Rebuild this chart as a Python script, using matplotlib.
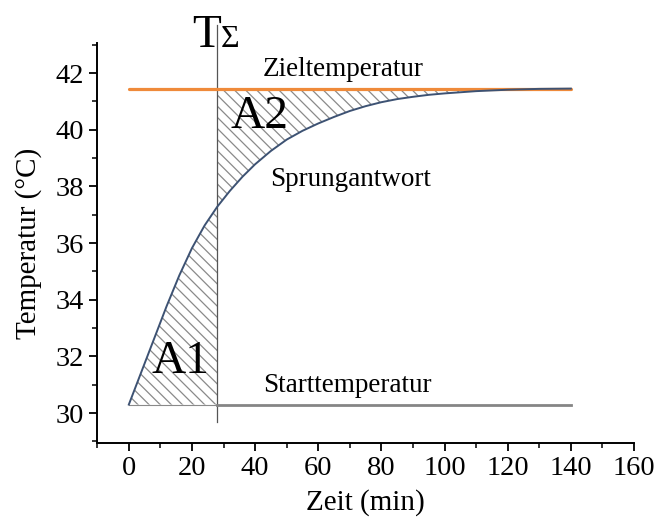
import matplotlib
matplotlib.use("Agg")
import matplotlib.pyplot as plt
import numpy as np

plt.rcParams['font.family'] = ['Liberation Serif', 'DejaVu Serif']
plt.rcParams['hatch.color'] = '#8a8a8a'
plt.rcParams['hatch.linewidth'] = 0.9

# step response read from the measurement
zeit = np.array([0, 4, 8, 12, 16, 20, 24, 28, 32, 36, 40, 45, 50, 55, 60,
                 65, 70, 75, 80, 85, 90, 95, 100, 110, 120, 130, 140])
temp = np.array([30.30, 31.46, 32.62, 33.78, 34.86, 35.82, 36.62, 37.28, 37.84,
                 38.34, 38.78, 39.25, 39.65, 39.96, 40.22, 40.45, 40.66, 40.83,
                 40.97, 41.08, 41.16, 41.23, 41.28, 41.36, 41.41, 41.44, 41.45])

t_start = 30.3
t_ziel = 41.45
t_sigma = 28
t_end = 140

x_ticks = [0, 20, 40, 60, 80, 100, 120, 140, 160]
y_ticks = [30, 32, 34, 36, 38, 40, 42]

fig = plt.figure(figsize=(6.57, 5.21), dpi=100)
ax = fig.add_axes([0.148, 0.150, 0.817, 0.767])

# hatched areas A1 (left of T_sigma) and A2 (right of it)
left = zeit <= t_sigma
right = zeit >= t_sigma
ax.fill_between(zeit[left], t_start, temp[left], facecolor='none',
                edgecolor='#8a8a8a', hatch='\\\\\\', linewidth=0)
ax.fill_between(zeit[right], temp[right], t_ziel, facecolor='none',
                edgecolor='#8a8a8a', hatch='\\\\\\', linewidth=0)
ax.plot([0, t_sigma], [t_start, t_start], color='#8a8a8a', lw=0.8)

ax.plot([0, t_end], [t_ziel, t_ziel], color='#ef8a3a', lw=2.3, solid_capstyle='round', zorder=3)
ax.plot([t_sigma, t_end], [t_start, t_start], color='#858585', lw=2.0, zorder=3)
ax.plot(zeit, temp, color='#3d5273', lw=1.4, zorder=4)
ax.plot([t_sigma, t_sigma], [29.68, 43.7], color='#555555', lw=0.9, clip_on=False, zorder=2)

ax.text(24.8, 42.9, 'T', fontsize=34, ha='center', va='baseline')
ax.text(32.1, 42.9, 'Σ', fontsize=23, ha='center', va='baseline')
ax.text(68, 41.9, 'Zieltemperatur', fontsize=19.5, ha='center', va='baseline')
ax.text(70.2, 38.0, 'Sprungantwort', fontsize=19.5, ha='center', va='baseline')
ax.text(69.2, 30.74, 'Starttemperatur', fontsize=19.5, ha='center', va='baseline')
ax.text(41.3, 40.06, 'A2', fontsize=34, ha='center', va='baseline')
ax.text(16.5, 31.41, 'A1', fontsize=34, ha='center', va='baseline')

ax.set_xlim(-10, 160)
ax.set_ylim(28.95, 43.05)
ax.set_xticks(x_ticks)
ax.set_yticks(y_ticks)
ax.set_xticks(np.arange(-10, 161, 10), minor=True)
ax.set_yticks(np.arange(29, 44, 1), minor=True)
ax.tick_params(which='major', direction='out', length=6, width=1.3, labelsize=20.5)
ax.tick_params(which='minor', direction='out', length=3.5, width=1.1)
for side in ['top', 'right']:
    ax.spines[side].set_visible(False)
for side in ['left', 'bottom']:
    ax.spines[side].set_linewidth(1.4)

ax.set_xlabel('Zeit (min)', fontsize=21, labelpad=6)
ax.set_ylabel('Temperatur (°C)', fontsize=21, labelpad=10)

fig.savefig('out.png', dpi=100)
